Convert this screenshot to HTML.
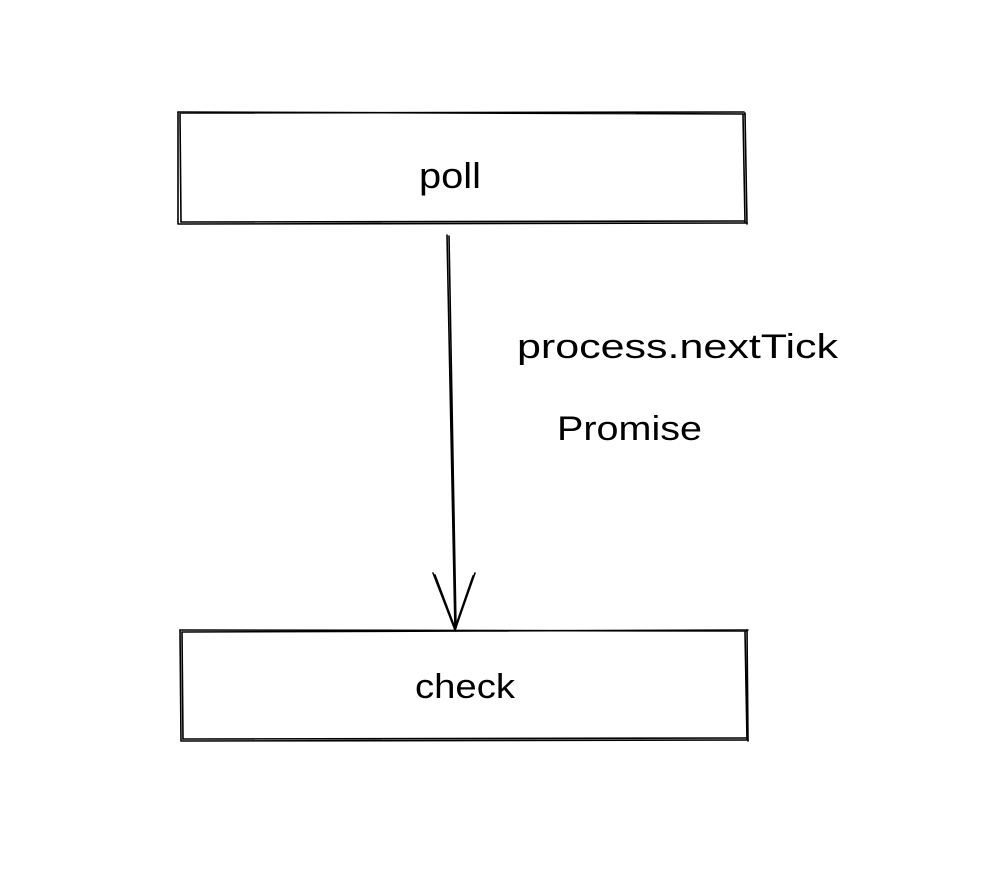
<!DOCTYPE html>
<html>
<head>
<meta charset="utf-8">
<style>
html,body{margin:0;padding:0;background:#fff;}
svg{display:block;}
text{font-family:"Liberation Sans",sans-serif;fill:#000;}
</style>
</head>
<body>
<svg width="982" height="890" viewBox="0 0 982 890" xmlns="http://www.w3.org/2000/svg">
<g fill="none" stroke="#000" stroke-width="1.6" stroke-linecap="round">
<!-- poll box -->
<path d="M178 112 L745 114 M180 113 L744 112"/>
<path d="M745 113 L747 224 M743 115 L745 222"/>
<path d="M747 223 L179 224 M745 221 L181 222"/>
<path d="M178 224 L178 112 M181 222 L180 114"/>
<!-- check box -->
<path d="M180 630 L746 631 M182 632 L748 630"/>
<path d="M747 630 L748 741 M745 632 L747 739"/>
<path d="M748 740 L182 741 M746 738 L183 739"/>
<path d="M181 741 L180 630 M183 739 L182 632"/>
<!-- arrow -->
<path d="M447 235 L455 630 M449 236 L456 628"/>
<path d="M433 573 L455 630 L475 573 M435 575 L455 628 L473 576"/>
</g>
<text x="450" y="188" font-size="36" text-anchor="middle" textLength="62" lengthAdjust="spacingAndGlyphs">poll</text>
<text x="517" y="358" font-size="34" textLength="321" lengthAdjust="spacingAndGlyphs">process.nextTick</text>
<text x="557" y="440" font-size="34" textLength="145" lengthAdjust="spacingAndGlyphs">Promise</text>
<text x="465" y="698" font-size="34" text-anchor="middle" textLength="100" lengthAdjust="spacingAndGlyphs">check</text>
</svg>
</body>
</html>
